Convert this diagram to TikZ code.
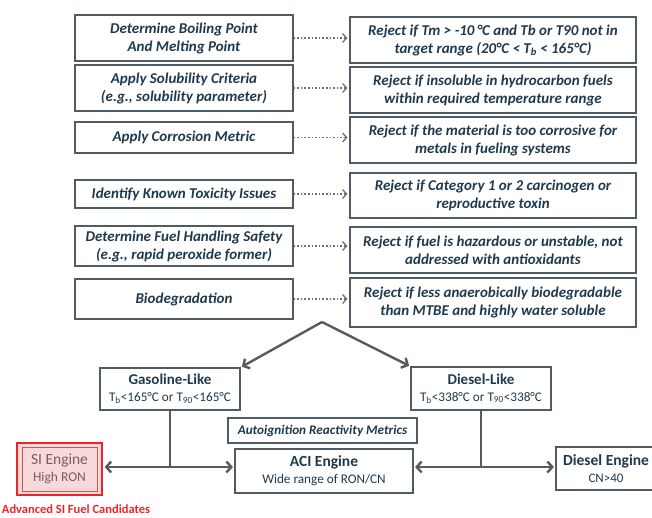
\documentclass[tikz,border=0pt]{standalone}
\usepackage{fontspec}
\setmainfont{Carlito}
\usetikzlibrary{arrows.meta}
\definecolor{txt}{HTML}{1F3A4F}
\definecolor{bord}{HTML}{4E5C67}
\definecolor{arrg}{HTML}{5A5A5A}
\definecolor{dotg}{HTML}{707070}
\definecolor{sired}{HTML}{E8262A}
\definecolor{sifill}{HTML}{F7D9D9}
\definecolor{siin}{HTML}{C25A5A}
\definecolor{sitxt}{HTML}{7A5E5E}
\begin{document}
\begin{tikzpicture}[x=1pt,y=-1pt,
  box/.style={draw=bord, line width=1.1pt, fill=white, text=txt, align=center, inner sep=0pt},
  critbox/.style={box, minimum width=218pt, font=\bfseries\itshape\fontsize{15}{18}\selectfont},
  rejbox/.style={box, minimum width=286pt, font=\bfseries\itshape\fontsize{15}{18}\selectfont},
  fuelbox/.style={box, minimum width=140pt, minimum height=42pt, font=\fontsize{13.2}{17}\selectfont},
  dotarrow/.style={dotg, line width=1.6pt, dotted, -{Straight Barb[length=4pt,width=9pt,line width=1.3pt]}, shorten >=2pt},
  bigarrow/.style={arrg, line width=2.4pt, -{Straight Barb[length=5pt,width=11pt]}, shorten >=1.5pt},
  bigline/.style={arrg, line width=2.4pt}
]
\useasboundingbox (0,0) rectangle (652,517);
\clip (0,0) rectangle (652,517);

% criteria boxes
\node[critbox, minimum height=46pt] (l1) at (184,38) {Determine Boiling Point\\And Melting Point};
\node[critbox, minimum height=46pt] (l2) at (184,88) {Apply Solubility Criteria\\(e.g., solubility parameter)};
\node[critbox, minimum height=31pt] (l3) at (184,137.5) {Apply Corrosion Metric};
\node[critbox, minimum height=28pt] (l4) at (184,194) {Identify Known Toxicity Issues};
\node[critbox, minimum height=40pt] (l5) at (184,246) {Determine Fuel Handling Safety\\(e.g., rapid peroxide former)};
\node[critbox, minimum height=40pt] (l6) at (184,299) {Biodegradation};

% reject boxes
\node[rejbox, minimum height=46pt] (r1) at (493,40) {Reject if Tm > -10\,°C and Tb or T90 not in\\target range (20°C < T\textsubscript{b} < 165°C)};
\node[rejbox, minimum height=46pt] (r2) at (493,90) {Reject if insoluble in hydrocarbon fuels\\within required temperature range};
\node[rejbox, minimum height=46pt] (r3) at (493,140) {Reject if the material is too corrosive for\\metals in fueling systems};
\node[rejbox, minimum height=45pt] (r4) at (493,195.5) {Reject if Category 1 or 2 carcinogen or\\reproductive toxin};
\node[rejbox, minimum height=46pt] (r5) at (493,250) {Reject if fuel is hazardous or unstable, not\\addressed with antioxidants};
\node[rejbox, minimum height=49pt] (r6) at (493,302.5) {Reject if less anaerobically biodegradable\\than MTBE and highly water soluble};

\foreach \i in {1,...,6} {
  \draw[dotarrow] (l\i.east) -- (l\i.east -| r\i.west);
}

% fuel type boxes
\node[fuelbox] (gas) at (170,389) {{\bfseries\fontsize{15}{17}\selectfont Gasoline-Like}\\T\textsubscript{b}<165°C or T\textsubscript{90}<165°C};
\node[fuelbox, minimum height=43pt] (dsl) at (481,388.5) {{\bfseries\fontsize{15}{17}\selectfont Diesel-Like}\\T\textsubscript{b}<338°C or T\textsubscript{90}<338°C};

\coordinate (apex) at (322,322);
\draw[bigarrow] (apex) -- (gas.north east);
\draw[bigarrow] (apex) -- (dsl.north west);

% engines
\node[box, minimum width=189pt, minimum height=25pt, font=\bfseries\itshape\fontsize{13.2}{15}\selectfont] (auto) at (322.5,430.5) {Autoignition Reactivity Metrics};
\node[box, minimum width=178pt, minimum height=44pt, font=\fontsize{13.2}{17}\selectfont] (aci) at (324,471) {{\bfseries\fontsize{15.5}{17}\selectfont ACI Engine}\\Wide range of RON/CN};
\node[box, minimum width=100pt, minimum height=43pt, font=\fontsize{13}{17}\selectfont] (deng) at (606,468.5) {{\bfseries\fontsize{15.5}{17}\selectfont Diesel Engine}\\CN>40};

\node[draw=sired, line width=2.2pt, fill=sifill, minimum width=85pt, minimum height=52pt, inner sep=0pt] (si) at (59.5,469) {};
\node[draw=siin, line width=0.7pt, minimum width=75pt, minimum height=44pt, inner sep=0pt, text=sitxt, align=center, font=\fontsize{13.5}{17}\selectfont] (siin) at (si.center) {{\fontsize{15.5}{17}\selectfont SI Engine}\\High RON};
\node[text=sired, font=\bfseries\fontsize{12.5}{14}\selectfont, inner sep=0pt] (adv) at (76,509) {Advanced SI Fuel Candidates};

\coordinate (gj) at (170,467);
\coordinate (dj) at (481,467);
\draw[bigline] (gas.south) -- (gj);
\draw[bigarrow] (gj) -- (gj -| si.east);
\draw[bigarrow] (gj) -- (gj -| aci.west);
\draw[bigline] (dsl.south) -- (dj);
\draw[bigarrow] (dj) -- (dj -| aci.east);
\draw[bigarrow] (dj) -- (dj -| deng.west);
\end{tikzpicture}
\end{document}
